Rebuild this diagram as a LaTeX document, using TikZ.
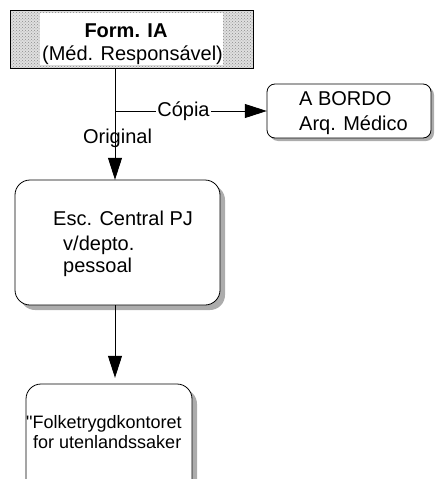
\documentclass[tikz,border=0pt]{standalone}
\usepackage{fontspec}
\setmainfont{Liberation Sans}
\usetikzlibrary{arrows.meta,patterns}
\tikzset{
  txt/.style={inner sep=0pt,anchor=base west,font=\fontsize{20}{22}\selectfont},
  txtc/.style={inner sep=0pt,anchor=base,font=\fontsize{20}{22}\selectfont},
  plain/.style={inner sep=0pt,anchor=base west,font=\fontsize{18}{20}\selectfont},
  boxr/.style={draw=black,line width=0.8pt,fill=white,rounded corners=#1},
  shad/.style={fill=gray!65,rounded corners=#1},
  arr/.style={line width=0.8pt,-{Triangle[width=14pt,length=22pt]}},
}
\begin{document}
\begin{tikzpicture}[x=1pt,y=-1pt]
\useasboundingbox (0,0) rectangle (434,479);
% top stippled box
\fill[gray!25] (10,10) rectangle (253,68);
\fill[pattern=crosshatch dots,pattern color=gray!90] (10,10) rectangle (253,68);
\fill[white] (40,13) rectangle (223,65);
\node[draw=black,line width=0.6pt,minimum width=243pt,minimum height=58pt,inner sep=0pt] (form) at (131.5,39) {};
\node[txtc,font=\bfseries\fontsize{20}{22}\selectfont] (t1) at (126,37) {Form. IA};
\node[txtc] (t2) at (132.5,60) {(Méd. Responsável)};
% A BORDO box
\fill[shad=8pt] (270,87) rectangle (434,141);
\draw[boxr=8pt] (267,84) rectangle (431,138);
\node[minimum width=164pt,minimum height=54pt,inner sep=0pt] (bordo) at (349,111) {};
\node[txt] (t3) at (299,105) {A BORDO};
\node[txt] (t4) at (299,130) {Arq. Médico};
% central box
\fill[shad=15pt] (20,185) rectangle (225,310);
\draw[boxr=15pt] (15,180) rectangle (220,305);
\node[minimum width=205pt,minimum height=125pt,inner sep=0pt] (esc) at (117.5,242.5) {};
\node[txt] (t5) at (53,225) {Esc. Central PJ};
\node[txt] (t6) at (63,250) {v/depto.};
\node[txt] (t7) at (63,272) {pessoal};
% bottom box
\fill[shad=15pt] (31,389) rectangle (197,499);
\draw[boxr=15pt] (26,384) rectangle (192,494);
\node[minimum width=166pt,minimum height=110pt,inner sep=0pt] (folk) at (109,439) {};
\node[plain] (t8) at (26,428) {\textquotedbl Folketrygdkontoret};
\node[plain] (t9) at (33,448) {for utenlandssaker};
% connectors
\coordinate (f1) at (115,68);
\coordinate (br) at (115,111);
\draw[line width=0.8pt] (f1) -- (br);
\draw[arr] (br) -- (esc.north -| br);
\draw[arr] (br) -- (bordo.west);
\node[txtc,fill=white,inner xsep=1pt,inner ysep=2pt] (cop) at (183.5,116) {Cópia};
\node[txtc] (orig) at (117.5,143) {Original};
\draw[arr,shorten >=6pt] (esc.south -| br) -- (folk.north -| br);
\end{tikzpicture}
\end{document}
